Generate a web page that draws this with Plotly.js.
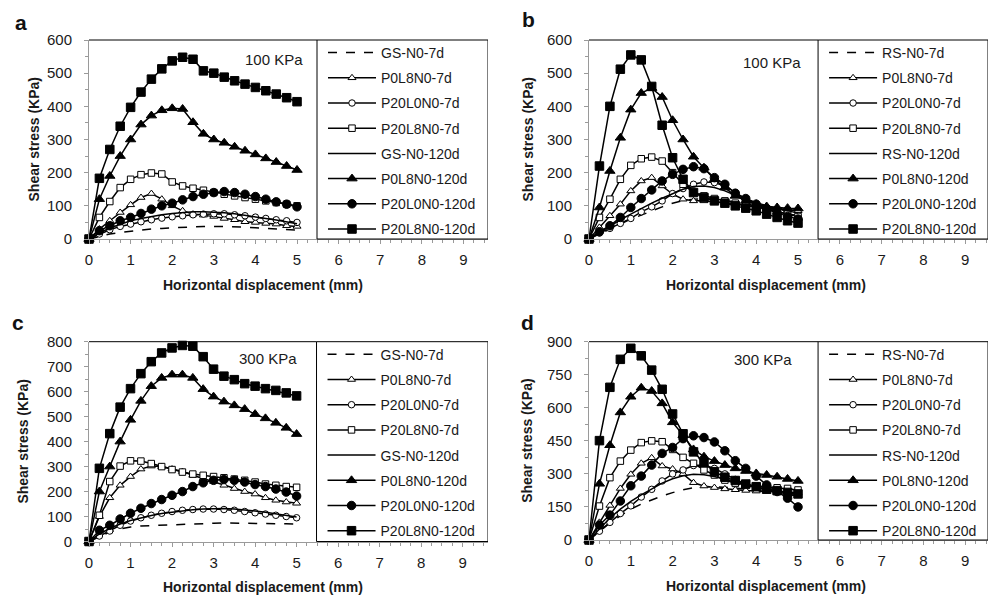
<!DOCTYPE html>
<html><head><meta charset="utf-8">
<script src="https://cdn.plot.ly/plotly-3.0.1.min.js"></script>
<style>html,body{margin:0;padding:0;background:#fff}#chart{width:990px;height:596px}</style>
</head><body><div id="chart"></div>
<script>
const X = [0,0.25,0.5,0.75,1,1.25,1.5,1.75,2,2.25,2.5,2.75,3,3.25,3.5,3.75,4,4.25,4.5,4.75,5];

const namesGS = ['GS-N0-7d','P0L8N0-7d','P20L0N0-7d','P20L8N0-7d','GS-N0-120d','P0L8N0-120d','P20L0N0-120d','P20L8N0-120d'];
const namesRS = ['RS-N0-7d','P0L8N0-7d','P20L0N0-7d','P20L8N0-7d','RS-N0-120d','P0L8N0-120d','P20L0N0-120d','P20L8N0-120d'];

// Panel a (100 KPa, GS)
const aGS7      = [0,8,15,20,24,27,30,32,34,36,37,38,38,38,37,36,34,32,30,28,27];
const aP0L8_7   = [0,30,55,80,103,125,137,120,100,85,75,72,68,62,58,52,50,47,45,40,38];
const aP20L0_7  = [0,15,28,38,45,52,58,63,67,70,73,75,76,76,73,70,66,62,58,55,50];
const aP20L8_7  = [0,65,113,155,180,194,199,196,172,160,153,147,140,135,130,125,120,115,110,105,100];
const aGS120    = [0,18,33,45,55,62,68,73,77,80,82,82,81,79,76,72,67,62,57,51,46];
const aP0L8_120 = [0,120,190,250,300,345,372,388,394,392,352,317,300,290,278,266,255,243,232,220,208];
const aP20L0_120= [0,25,40,55,65,77,90,100,108,118,128,135,140,143,140,135,128,120,112,105,97];
const aP20L8_120= [0,183,270,340,397,443,482,513,537,548,542,507,500,488,477,467,457,447,437,426,414];

// Panel b (100 KPa, RS)
const bRS7      = [0,15,30,45,60,72,85,97,108,116,120,122,120,117,112,107,102,97,92,87,82];
const bP0L8_7   = [0,35,70,105,145,175,185,160,135,120,115,115,112,110,105,100,97,95,90,87,85];
const bP20L0_7  = [0,18,32,47,62,82,97,115,137,152,165,172,170,160,140,120,105,92,82,75,70];
const bP20L8_7  = [0,65,120,180,222,242,247,235,200,165,140,130,122,115,108,102,97,90,82,75,68];
const bRS120    = [0,20,40,58,75,92,108,123,137,150,158,160,155,145,132,120,110,100,92,85,78];
const bP0L8_120 = [0,95,205,305,390,440,455,428,358,300,248,215,180,155,130,115,105,98,95,93,92];
const bP20L0_120= [0,22,40,65,95,122,148,175,195,210,218,212,185,165,138,122,105,90,78,68,60];
const bP20L8_120= [0,220,400,512,555,540,460,343,245,180,140,125,115,108,100,93,85,75,65,55,48];

// Panel c (300 KPa, GS)
const cGS7      = [0,20,38,50,58,62,64,66,68,70,71,72,73,74,74,74,74,73,72,71,70];
const cP0L8_7   = [0,100,175,225,260,290,302,300,290,280,265,252,240,225,212,200,190,175,165,158,153];
const cP20L0_7  = [0,22,42,65,82,95,105,113,120,125,128,130,130,128,125,120,115,110,105,100,95];
const cP20L8_7  = [0,105,240,302,323,322,312,300,288,278,270,265,260,255,250,245,238,230,225,220,217];
const cGS120    = [0,30,52,70,84,95,104,112,118,123,127,130,132,132,130,127,122,117,111,105,98];
const cP0L8_120 = [0,200,300,400,487,563,622,655,668,668,655,610,580,560,545,530,510,493,475,455,430];
const cP20L0_120= [0,45,65,90,113,133,152,168,185,200,220,235,245,248,245,238,228,220,210,198,182];
const cP20L8_120= [0,293,432,538,612,672,720,755,775,785,782,740,690,662,648,632,622,612,605,595,583];

// Panel d (300 KPa, RS)
const dRS7      = [0,40,78,110,140,163,182,200,215,228,237,242,242,240,236,231,226,221,215,208,200];
const dP0L8_7   = [0,80,157,234,298,348,373,336,322,300,260,245,238,232,228,225,222,220,220,218,215];
const dP20L0_7  = [0,40,80,120,155,195,230,268,300,318,338,340,325,300,275,255,240,230,222,215,210];
const dP20L8_7  = [0,154,283,358,408,442,450,446,411,375,348,318,295,272,257,250,245,242,237,234,227];
const dRS120    = [0,50,100,140,175,205,232,258,278,292,298,296,288,275,260,248,237,227,218,208,200];
const dP0L8_120 = [0,255,430,579,650,691,676,620,534,476,411,378,358,340,325,313,302,295,287,277,268];
const dP20L0_120= [0,68,113,177,246,290,340,393,420,460,473,465,445,405,360,325,290,250,220,190,150];
const dP20L8_120= [0,451,693,820,870,836,771,684,572,482,400,350,310,285,270,254,242,231,224,216,209];

const pressures = ['100 KPa','100 KPa','300 KPa','300 KPa'];
const panelLetters = ['a','b','c','d'];
const yMax = [600,600,800,900];
const yDtick = [100,100,100,150];

const panels = [
  {names:namesGS, series:[aGS7,aP0L8_7,aP20L0_7,aP20L8_7,aGS120,aP0L8_120,aP20L0_120,aP20L8_120]},
  {names:namesRS, series:[bRS7,bP0L8_7,bP20L0_7,bP20L8_7,bRS120,bP0L8_120,bP20L0_120,bP20L8_120]},
  {names:namesGS, series:[cGS7,cP0L8_7,cP20L0_7,cP20L8_7,cGS120,cP0L8_120,cP20L0_120,cP20L8_120]},
  {names:namesRS, series:[dRS7,dP0L8_7,dP20L0_7,dP20L8_7,dRS120,dP0L8_120,dP20L0_120,dP20L8_120]}
];

// styles
const STY = [
  {mode:'lines', dash:'dash'},
  {mode:'lines+markers', symbol:'triangle-up', fill:'white', size:7},
  {mode:'lines+markers', symbol:'circle', fill:'white', size:6.5},
  {mode:'lines+markers', symbol:'square', fill:'white', size:6.5},
  {mode:'lines'},
  {mode:'lines+markers', symbol:'triangle-up', fill:'black', size:9},
  {mode:'lines+markers', symbol:'circle', fill:'black', size:8.5},
  {mode:'lines+markers', symbol:'square', fill:'black', size:8.5}
];

const W = 990, H = 596;
const geo = [
  {x0:89, x1:488, yt:40, yb:239, xr:9.59},
  {x0:589, x1:988, yt:40, yb:239, xr:9.545},
  {x0:89, x1:488, yt:341.7, yb:541.5, xr:9.61},
  {x0:589, x1:988, yt:341.7, yb:540, xr:9.545}
];
const boxLeft = 5.48;
const FONT = 'Liberation Sans, Arial, sans-serif';

const traces = [];
const layout = {
  width:W, height:H, margin:{l:0,r:0,t:0,b:0},
  paper_bgcolor:'#fff', plot_bgcolor:'#fff',
  font:{family:FONT, color:'#1a1a1a', size:14},
  showlegend:true, shapes:[], annotations:[]
};

panels.forEach((p, i) => {
  const sfx = i === 0 ? '' : String(i+1);
  const g = geo[i];
  const legName = 'legend' + sfx;
  p.series.forEach((ys, k) => {
    const s = STY[k];
    const t = {
      x: X, y: ys, name: p.names[k], type:'scatter', mode:s.mode,
      xaxis:'x'+sfx, yaxis:'y'+sfx, legend:legName, legendgroup:'g'+i+'_'+k,
      cliponaxis:false,
      line:{color:'black', width:1.5, dash:s.dash || 'solid'},
      hoverinfo:'skip'
    };
    if (s.symbol) t.marker = {symbol:s.symbol, size:s.size, color:s.fill, line:{color:'black', width:1}};
    traces.push(t);
  });
  layout['xaxis'+sfx] = {
    domain:[g.x0/W, g.x1/W], anchor:'y'+sfx, range:[0, g.xr],
    tickmode:'linear', tick0:0, dtick:1, ticks:'outside', ticklen:4, tickcolor:'#9a9a9a',
    showline:true, linecolor:'#9a9a9a', linewidth:1, showgrid:false, zeroline:false,
    minor:{dtick:0.25, ticks:'outside', ticklen:3, tickcolor:'#9a9a9a'},
    tickfont:{size:15, family:FONT, color:'#1a1a1a'}, ticklabelstandoff:3
  };
  layout['yaxis'+sfx] = {
    domain:[1-g.yb/H, 1-g.yt/H], anchor:'x'+sfx, range:[0, yMax[i]],
    tickmode:'linear', tick0:0, dtick:yDtick[i], ticks:'outside', ticklen:4, tickcolor:'#9a9a9a',
    showline:true, linecolor:'#9a9a9a', linewidth:1, showgrid:false, zeroline:false,
    minor:{dtick:yDtick[i]/2, ticks:'outside', ticklen:3, tickcolor:'#9a9a9a'},
    tickfont:{size:15, family:FONT, color:'#1a1a1a'}, ticklabelstandoff:9
  };
  layout[legName] = {
    x:(g.x0 + (boxLeft/g.xr)*(g.x1-g.x0) + 6)/W, xanchor:'left',
    y:1-(g.yt-3)/H, yanchor:'top',
    bgcolor:'rgba(0,0,0,0)', borderwidth:0,
    font:{size:14, family:FONT, color:'#1a1a1a'},
    itemwidth:48, tracegroupgap:4, traceorder:'grouped'
  };
  // legend box
  layout.shapes.push({type:'rect', xref:'x'+sfx, yref:'y'+sfx+' domain', x0:boxLeft, x1:g.xr, y0:0, y1:1,
    line:{color:'black', width:1}, fillcolor:'white', layer:'above'});
  // top border
  layout.shapes.push({type:'line', xref:'x'+sfx, yref:'y'+sfx+' domain', x0:0, x1:boxLeft, y0:1, y1:1,
    line:{color:'black', width:1}, layer:'above'});
  // pressure label
  const pc = [274, 772, 268, 763][i], py = [60, 62, 358, 359][i];
  layout.annotations.push({text:pressures[i], xref:'paper', yref:'paper', x:pc/W, y:1-py/H,
    xanchor:'center', yanchor:'middle', showarrow:false, font:{size:15, family:FONT, color:'#1a1a1a'}});
  // panel letter
  const lx = [21, 528, 18, 527][i], ly = [22, 20, 322, 322][i];
  layout.annotations.push({text:'<b>'+panelLetters[i]+'</b>', xref:'paper', yref:'paper', x:lx/W, y:1-ly/H,
    xanchor:'center', yanchor:'middle', showarrow:false, font:{size:21, family:FONT, color:'#111'}});
  // y title
  const yx = [33, 527, 23, 527][i];
  layout.annotations.push({text:'<b>Shear stress (KPa)</b>', xref:'paper', yref:'paper', x:yx/W, y:1-((g.yt+g.yb)/2)/H,
    xanchor:'center', yanchor:'middle', textangle:-90, showarrow:false, font:{size:14, family:FONT, color:'#1a1a1a'}});
  // x title
  const xx = [263, 766, 263, 766][i], xy = [g.yb+46, g.yb+46, g.yb+45, g.yb+46][i];
  layout.annotations.push({text:'<b>Horizontal displacement (mm)</b>', xref:'paper', yref:'paper', x:xx/W, y:1-xy/H,
    xanchor:'center', yanchor:'middle', showarrow:false, font:{size:14, family:FONT, color:'#1a1a1a'}});
});

Plotly.newPlot('chart', traces, layout, {staticPlot:true, displayModeBar:false});
</script></body></html>
